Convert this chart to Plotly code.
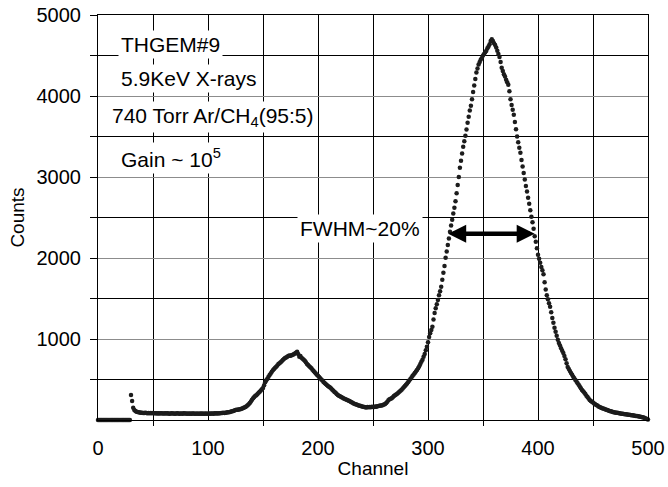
import plotly.graph_objects as go

# ---- data (one value per channel) ----
channels = list(range(0, 501))
counts = (
    [0] * 30 +
    # 30-39
    [310, 235, 150, 125, 110, 102, 98, 95, 92, 90,
     # 40-49
     88, 87, 86, 88, 85, 84, 86, 83, 85, 84,
     # 50-59
     86, 83, 82, 84, 81, 83, 80, 82, 84, 81,
     # 60-69
     80, 82, 79, 83, 81, 78, 80, 82, 79, 81,
     # 70-79
     78, 80, 83, 79, 77, 81, 79, 78, 82, 80,
     # 80-89
     79, 77, 81, 78, 80, 76, 79, 81, 78, 77,
     # 90-99
     80, 78, 76, 79, 77, 80, 78, 76, 79, 77,
     # 100-109
     78, 80, 77, 79, 81, 78, 82, 80, 83, 81,
     # 110-119
     84, 82, 86, 85, 88, 87, 90, 92, 95, 97,
     # 120-129
     100, 104, 107, 112, 116, 122, 126, 128, 130, 133,
     # 130-139
     136, 142, 148, 155, 160, 170, 182, 195, 210, 228,
     # 140-149
     250, 270, 285, 300, 305, 320, 335, 350, 365, 380,
     # 150-159
     395, 430, 465, 490, 510, 535, 556, 575, 595, 615,
     # 160-169
     630, 645, 658, 672, 690, 700, 712, 725, 740, 752,
     # 170-179
     765, 772, 780, 790, 795, 792, 798, 805, 812, 820,
     # 180-189
     830, 842, 815, 780, 790, 770, 755, 745, 730, 712,
     # 190-199
     690, 680, 665, 650, 638, 620, 605, 590, 575, 560,
     # 200-209
     545, 530, 515, 500, 488, 470, 458, 445, 432, 420,
     # 210-219
     410, 400, 390, 375, 360, 346, 335, 322, 310, 300,
     # 220-229
     292, 285, 278, 270, 262, 255, 250, 245, 238, 230,
     # 230-239
     222, 215, 208, 200, 195, 190, 185, 180, 176, 172,
     # 240-249
     168, 165, 160, 158, 155, 160, 156, 162, 158, 165,
     # 250-259
     160, 162, 168, 165, 170, 172, 175, 178, 180, 185,
     # 260-269
     190, 198, 210, 225, 245, 255, 262, 270, 282, 295,
     # 270-279
     305, 315, 325, 335, 350, 362, 375, 390, 405, 420,
     # 280-289
     435, 452, 470, 488, 505, 525, 545, 562, 580, 600,
     # 290-299
     618, 640, 665, 690, 718, 745, 780, 815, 860, 905,
     # 300-309
     960, 1026, 1070, 1110, 1150, 1240, 1322, 1380, 1430, 1483,
     # 310-319
     1540, 1590, 1644, 1730, 1817, 1900, 2002, 2080, 2160, 2240,
     # 320-329
     2324, 2400, 2472, 2550, 2620, 2700, 2800, 2900, 3000, 3115,
     # 330-339
     3200, 3290, 3375, 3440, 3510, 3585, 3670, 3745, 3820, 3880,
     # 340-349
     3960, 4050, 4130, 4210, 4290, 4340, 4390, 4420, 4450, 4470,
     # 350-359
     4500, 4520, 4540, 4560, 4590, 4610, 4640, 4680, 4700, 4680,
     # 360-369
     4650, 4630, 4600, 4560, 4520, 4480, 4420, 4350, 4310, 4270,
     # 370-379
     4240, 4200, 4170, 4140, 4060, 3960, 3890, 3830, 3770, 3680,
     # 380-389
     3590, 3500, 3430, 3360, 3300, 3210, 3130, 3050, 2970, 2890,
     # 390-399
     2820, 2745, 2670, 2590, 2510, 2440, 2360, 2270, 2200, 2120,
     # 400-409
     2040, 1990, 1940, 1890, 1850, 1800, 1700, 1610, 1540, 1490,
     # 410-419
     1440, 1397, 1330, 1260, 1200, 1140, 1090, 1040, 990, 950,
     # 420-429
     920, 885, 855, 828, 790, 750, 700, 655, 630, 605,
     # 430-439
     580, 560, 535, 515, 494, 475, 455, 435, 415, 392,
     # 440-449
     371, 355, 340, 320, 300, 285, 265, 247, 235, 225,
     # 450-459
     215, 205, 195, 185, 178, 168, 160, 155, 148, 142,
     # 460-469
     138, 132, 126, 122, 118, 112, 108, 104, 99, 96,
     # 470-479
     92, 90, 88, 85, 82, 80, 78, 76, 74, 72,
     # 480-489
     70, 68, 66, 64, 62, 60, 58, 55, 52, 50,
     # 490-500
     48, 45, 42, 40, 36, 33, 30, 25, 20, 12, 5]
)

x_ticks = [0, 100, 200, 300, 400, 500]
x_tick_labels = ["0", "100", "200", "300", "400", "500"]
x_minor = [50, 150, 250, 350, 450]
y_ticks = [1000, 2000, 3000, 4000, 5000]
y_tick_labels = ["1000", "2000", "3000", "4000", "5000"]
y_minor = [500, 1500, 2500, 3500, 4500]

fwhm_left, fwhm_right, fwhm_y = 317, 397, 2300

FONT = "Liberation Sans, Arial, sans-serif"

fig = go.Figure()
fig.add_trace(go.Scatter(
    x=channels, y=counts, mode="markers",
    marker=dict(size=4.5, color="#1c1c1c"),
    cliponaxis=False, showlegend=False,
))

fig.update_layout(
    width=668, height=487,
    margin=dict(l=98, r=20, t=15, b=67),
    paper_bgcolor="white", plot_bgcolor="white",
    font=dict(family=FONT, size=20, color="black"),
    xaxis=dict(
        range=[0, 500], tickmode="array", tickvals=x_ticks, ticktext=x_tick_labels,
        ticks="", showgrid=True, gridcolor="black", gridwidth=1,
        showline=True, linecolor="black", linewidth=1, mirror=True,
        zeroline=False, ticklabelstandoff=10, automargin=False,
        tickfont=dict(size=20),
        minor=dict(tickvals=x_minor, ticks="outside", ticklen=5, tickcolor="black",
                   showgrid=True, gridcolor="black", gridwidth=1),
        title=dict(text="Channel", font=dict(size=19), standoff=3),
    ),
    yaxis=dict(
        range=[0, 5000], tickmode="array", tickvals=y_ticks, ticktext=y_tick_labels,
        ticks="outside", ticklen=7, tickcolor="black",
        showgrid=True, gridcolor="#8c8c8c", gridwidth=1.3,
        showline=True, linecolor="black", linewidth=1, mirror=True,
        zeroline=False, tickfont=dict(size=20), automargin=False,
        ticklabelstandoff=5,
        minor=dict(tickvals=y_minor, ticks="outside", ticklen=7, tickcolor="black",
                   showgrid=True, gridcolor="black", gridwidth=1),
        title=dict(text="Counts", font=dict(size=19), standoff=6),
    ),
)

def label(text, x, y, xanchor="left"):
    fig.add_annotation(
        x=x, y=y, xref="x", yref="y", text=text, showarrow=False,
        xanchor=xanchor, yanchor="middle", bgcolor="white", borderpad=2,
        font=dict(family=FONT, size=21, color="black"),
    )

label("THGEM#9", 18, 4640)
label("5.9KeV X-rays", 18, 4210)
label("740 Torr Ar/CH<sub>4</sub>(95:5)", 10, 3740)
label("Gain ~ 10<sup>5</sup>", 18, 3230)
label("FWHM~20%", 295, 2370, xanchor="right")

fig.add_annotation(
    x=fwhm_right, y=fwhm_y, ax=fwhm_left, ay=fwhm_y,
    xref="x", yref="y", axref="x", ayref="y",
    text="", showarrow=True, arrowhead=2, startarrowhead=2,
    arrowside="end+start", arrowwidth=4.5, arrowsize=0.8, startarrowsize=0.8,
    arrowcolor="black",
)

fig.write_html("out.html")
